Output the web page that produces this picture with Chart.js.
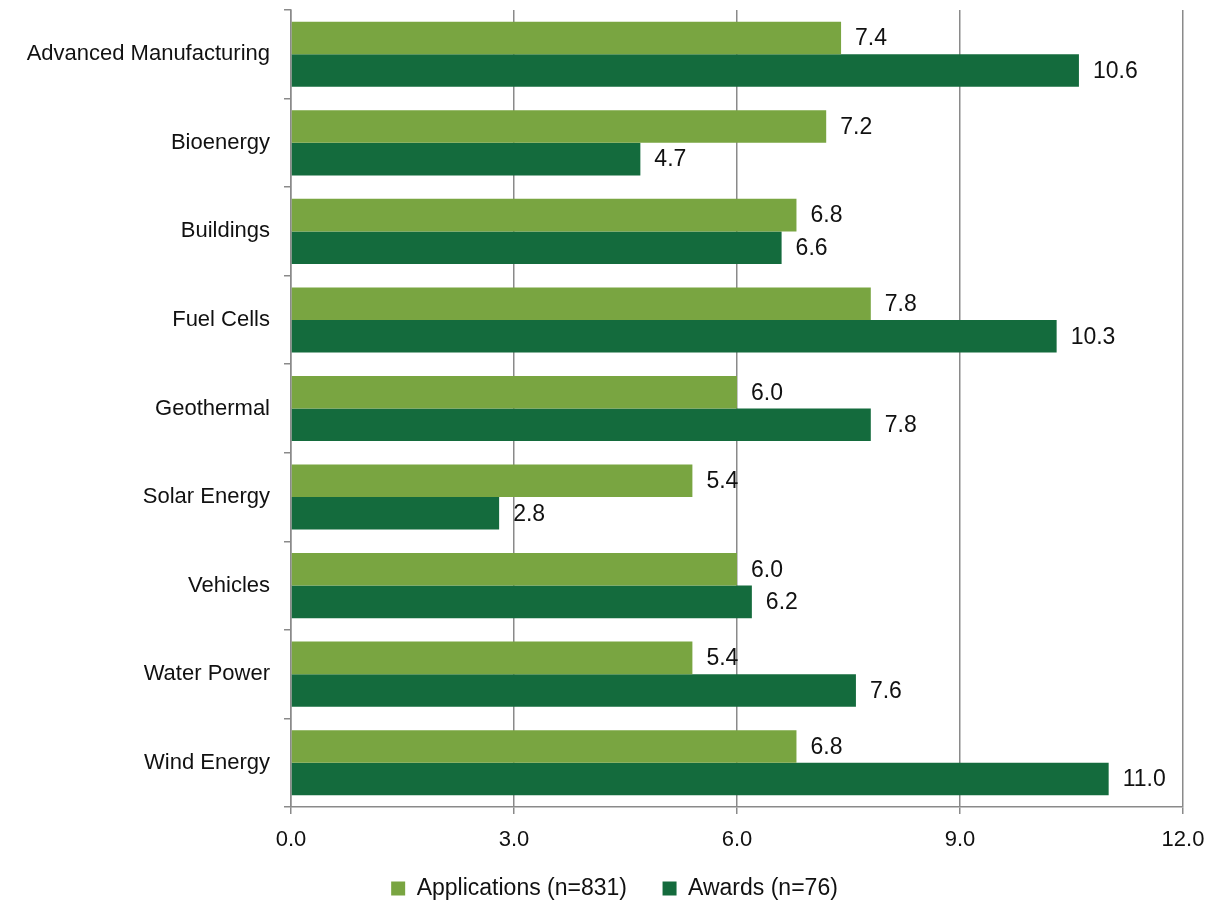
<!DOCTYPE html>
<html>
<head>
<meta charset="utf-8">
<script src="https://cdn.jsdelivr.net/npm/chart.js@4.4.1/dist/chart.umd.min.js"></script>
<style>
  html, body { margin: 0; padding: 0; background: #fff; }
  #wrap { width: 1214px; height: 900px; }
</style>
</head>
<body>
<div id="wrap"><canvas id="chart"></canvas></div>
<script>
const categories = ['Advanced Manufacturing', 'Bioenergy', 'Buildings', 'Fuel Cells', 'Geothermal',
  'Solar Energy', 'Vehicles', 'Water Power', 'Wind Energy'];
const applications = [7.4, 7.2, 6.8, 7.8, 6.0, 5.4, 6.0, 5.4, 6.8];
const awards = [10.6, 4.7, 6.6, 10.3, 7.8, 2.8, 6.2, 7.6, 11.0];
const seriesNames = ['Applications (n=831)', 'Awards (n=76)'];
const xTicks = [0, 3, 6, 9, 12];

const lightGreen = '#79a541';
const darkGreen = '#146b3d';
const gridGray = '#8a8a8a';
const font = '"Liberation Sans", Arial, sans-serif';

// value labels at the end of each bar
const barLabels = {
  id: 'barLabels',
  afterDatasetsDraw(chart) {
    const ctx = chart.ctx;
    ctx.save();
    ctx.font = '23px ' + font;
    ctx.fillStyle = '#111';
    ctx.textBaseline = 'middle';
    ctx.textAlign = 'left';
    chart.data.datasets.forEach((ds, i) => {
      chart.getDatasetMeta(i).data.forEach((bar, j) => {
        ctx.fillText(ds.data[j].toFixed(1), bar.x + 14, bar.y + 1);
      });
    });
    ctx.restore();
  }
};

// legend sits a bit right of the canvas centre
const legendShift = {
  id: 'legendShift',
  afterLayout(chart) {
    chart.legend.left += 23;
    chart.legend.right += 23;
  }
};

new Chart(document.getElementById('chart'), {
  type: 'bar',
  data: {
    labels: categories,
    datasets: [
      { label: seriesNames[0], data: applications, backgroundColor: lightGreen },
      { label: seriesNames[1], data: awards, backgroundColor: darkGreen }
    ]
  },
  options: {
    indexAxis: 'y',
    responsive: true,
    maintainAspectRatio: false,
    animation: false,
    layout: { padding: { top: 10, right: 31, bottom: -10, left: 0 } },
    datasets: { bar: { categoryPercentage: 0.735, barPercentage: 1.0 } },
    scales: {
      x: {
        min: 0,
        max: 12,
        afterBuildTicks(scale) { scale.ticks = xTicks.map(v => ({ value: v })); },
        afterFit(scale) {
          scale.height = 60;
          scale.paddingLeft = 0;
          scale.paddingRight = 0;
        },
        grid: { color: gridGray, lineWidth: 1.5, tickLength: 7, drawTicks: true },
        border: { color: gridGray, width: 1.5 },
        ticks: {
          color: '#111',
          padding: 13,
          font: { size: 22, family: font },
          callback: v => Number(v).toFixed(1)
        }
      },
      y: {
        afterFit(scale) {
          scale.width = 291;
          scale.paddingTop = 0;
          scale.paddingBottom = 0;
        },
        grid: { drawOnChartArea: false, color: gridGray, lineWidth: 1.5, tickLength: 7, offset: true },
        border: { color: gridGray, width: 1.5 },
        ticks: {
          color: '#111',
          padding: 14,
          font: { size: 22, family: font }
        }
      }
    },
    plugins: {
      legend: {
        position: 'bottom',
        labels: {
          color: '#111',
          font: { size: 23, family: font },
          boxWidth: 14,
          boxHeight: 14,
          padding: 10,
          generateLabels(chart) {
            const items = Chart.defaults.plugins.legend.labels.generateLabels(chart);
            items.forEach((it, i) => {
              it.lineWidth = 0;
              if (i === 0) it.text = it.text + '    ';
            });
            return items;
          }
        }
      },
      tooltip: { enabled: false }
    }
  },
  plugins: [barLabels, legendShift]
});
</script>
</body>
</html>
